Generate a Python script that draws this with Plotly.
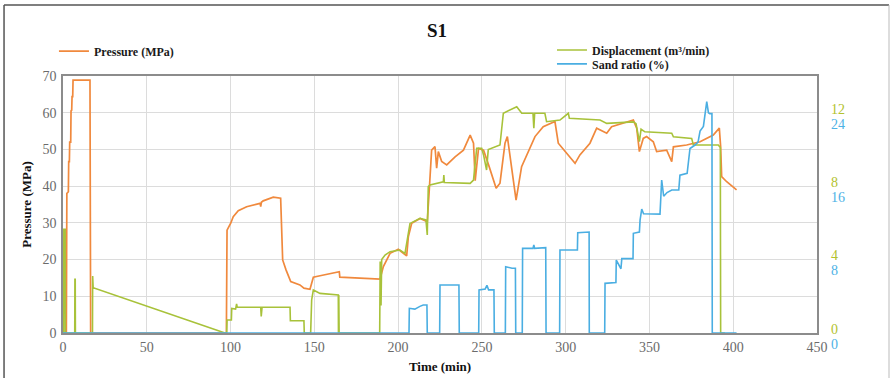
import plotly.graph_objects as go

# ---------------- data ----------------
time_pressure = [0, 2.0, 2.3, 3.2, 3.4, 3.8, 4.0, 4.6, 4.8, 5.2, 5.4, 5.8, 6.0, 6.4, 16.1, 16.5,
                 97.5, 97.9, 100.1, 101.6, 104.6, 109.6, 117.6, 118.0, 118.4, 119.5, 125.5, 129.9,
                 131.1, 133.1, 135.9, 141.4, 143.8, 147.4, 149.4, 153.4, 164.9, 165.2, 189.2,
                 191.2, 195.2, 200.1, 205.1, 206.1, 208.1, 213.1, 217.4, 218.6, 220.0, 222.0,
                 223.0, 224.0, 226.0, 229.0, 234.0, 239.0, 243.0, 245.0, 246.0, 248.0, 251.0,
                 254.0, 258.5, 260.8, 263.8, 265.2, 266.8, 270.4, 273.7, 278.7, 281.7, 286.6,
                 291.6, 293.6, 295.6, 300.6, 305.6, 308.5, 314.5, 318.5, 324.5, 327.4, 334.4,
                 340.4, 342.4, 344.0, 346.3, 348.3, 352.3, 354.3, 360.3, 363.3, 364.3, 372.2,
                 380.2, 388.1, 391.7, 392.5, 393.1, 396.1, 402.0]
pressure = [0, 0, 38.0, 38.5, 46.7, 46.7, 52.0, 52.0, 60.5, 60.7, 64.4, 64.4, 68.9, 68.9, 68.9, 0,
            0, 28.0, 29.9, 31.7, 33.3, 34.4, 35.3, 34.4, 35.6, 36.0, 37.0, 36.7,
            19.9, 17.2, 14.0, 13.1, 12.2, 11.9, 15.2, 15.6, 16.7, 15.2, 14.7,
            18.1, 21.7, 22.8, 21.0, 26.2, 29.9, 31.2, 30.3, 39.0, 49.8, 50.8,
            44.9, 49.4, 46.7, 45.8, 48.0, 49.8, 53.9, 51.7, 41.5, 50.3, 49.8,
            45.8, 39.4, 40.8, 51.7, 53.5, 48.0, 36.2, 45.3, 50.7, 53.5, 56.2,
            57.1, 57.6, 51.7, 49.0, 46.2, 48.5, 51.7, 55.8, 54.4, 56.2, 57.1,
            58.0, 55.8, 49.4, 53.0, 53.5, 52.1, 49.4, 49.8, 46.7, 50.7, 51.2,
            52.1, 53.9, 55.8, 50.7, 42.6, 41.2, 39.0]

time_disp = [0, 0.4, 0.5, 1.3, 1.4, 7.0, 7.1, 7.3, 7.4, 17.6, 17.7, 18.0, 96.7, 97.7, 97.9,
             100.5, 100.7, 103.0, 103.6, 104.0, 118.0, 118.3, 118.8, 135.5, 135.7, 143.8, 144.0,
             147.8, 148.4, 149.4, 153.4, 164.3, 164.4, 164.6, 164.8, 189.0, 189.3, 189.8, 190.2,
             192.2, 195.2, 201.1, 204.1, 206.1, 207.1, 213.1, 216.6, 217.4, 218.0, 219.0, 227.0,
             227.3, 227.6, 243.0, 245.0, 246.9, 249.9, 251.0, 252.8, 253.8, 260.8, 262.8, 268.7,
             270.8, 273.8, 280.5, 281.0, 281.5, 287.6, 288.6, 296.6, 301.6, 302.2, 320.5, 324.5,
             340.4, 342.0, 344.0, 345.0, 347.3, 363.3, 364.3, 375.2, 376.2, 391.1, 392.3, 392.5, 395.0]
displacement = [0, 0, 5.65, 5.65, 0, 0, 2.92, 2.92, 0, 0, 3.1, 2.47, 0, 0, 0.71,
                0.71, 1.34, 1.30, 1.58, 1.40, 1.40, 0.90, 1.40, 1.40, 0.67, 0.67, 0,
                0, 1.80, 2.34, 2.16, 2.07, 0, 2.07, 0, 0, 3.9, 1.5, 4.0,
                4.25, 4.43, 4.52, 4.34, 5.43, 5.97, 6.25, 6.16, 5.34, 7.97, 8.06, 8.24,
                8.6, 8.2, 8.15, 8.33, 10.06, 10.06, 9.7, 8.88, 9.99, 10.24, 11.97, 12.24,
                12.33, 11.97, 11.97, 11.15, 11.97, 11.97, 11.51, 11.6, 11.97, 11.7, 11.6, 11.42,
                11.5, 11.4, 10.42, 11.1, 10.96, 10.88, 10.69, 10.6, 10.24, 10.24, 10.1, 0, 0]

time_sand = [0, 206.5, 206.7, 210.0, 213.0, 215.0, 217.2, 217.4, 224.8, 225.0, 236.3, 236.5,
             248.1, 248.3, 252.0, 253.0, 254.0, 257.2, 257.4, 264.0, 264.2, 268.0, 270.0, 270.2,
             274.1, 274.3, 280.5, 281.0, 281.5, 288.1, 288.3, 296.4, 296.6, 302.0, 307.0, 307.2,
             314.0, 314.1, 323.3, 323.5, 330.0, 330.2, 333.0, 333.5, 340.2, 340.4, 344.0, 344.4,
             345.4, 346.5, 356.3, 357.3, 358.5, 360.5, 363.3, 367.5, 368.2, 372.5, 373.2, 374.2,
             377.2, 379.0, 380.2, 382.2, 384.2, 385.2, 386.0, 387.3, 387.5, 402.0]
sand_ratio = [0, 0, 2.69, 2.6, 2.9, 3.05, 3.05, 0, 0, 5.23, 5.23, 0,
              0, 4.68, 4.8, 5.2, 4.7, 4.7, 0, 0, 7.22, 7.05, 7.05, 0,
              0, 9.22, 9.22, 9.6, 9.22, 9.3, 0, 0, 9.04, 9.04, 9.04, 10.93,
              11.0, 0, 0, 5.41, 5.5, 7.95, 7.0, 8.1, 8.1, 10.86, 11.0, 12.3,
              13.5, 13.0, 12.95, 16.67, 14.9, 15.3, 15.58, 15.58, 17.2, 17.4, 18.85, 20.1,
              20.48, 20.8, 22.0, 22.5, 25.2, 24.0, 23.9, 23.9, 0, 0]

x_ticks = [0, 50, 100, 150, 200, 250, 300, 350, 400, 450]
p_ticks = [0, 10, 20, 30, 40, 50, 60, 70]
d_ticks = [0, 4, 8, 12]
s_ticks = [0, 8, 16, 24]

ORANGE = "#f0893d"
GREEN = "#a8c23a"
BLUE = "#4aaee2"
SERIF = "Liberation Serif"

fig = go.Figure()
fig.add_trace(go.Scatter(x=time_pressure, y=pressure, mode="lines", name="<b>Pressure (MPa)</b>",
                         line=dict(color=ORANGE, width=1.7), yaxis="y", legend="legend",
                         showlegend=True))
fig.add_trace(go.Scatter(x=time_disp, y=displacement, mode="lines",
                         name="<b>Displacement (m³/min)</b>",
                         line=dict(color=GREEN, width=1.6), yaxis="y2", legend="legend2",
                         showlegend=True))
fig.add_trace(go.Scatter(x=time_sand, y=sand_ratio, mode="lines", name="<b>Sand ratio (%)</b>",
                         line=dict(color=BLUE, width=1.6), yaxis="y3", legend="legend3",
                         showlegend=True))

legfont = dict(family=SERIF, size=12, color="#1a1a1a")

fig.update_layout(
    width=892, height=378, autosize=False,
    showlegend=True,
    margin=dict(l=63, r=75, t=76, b=45),
    paper_bgcolor="white", plot_bgcolor="white",
    title=dict(text="<b>S1</b>", font=dict(family=SERIF, size=19, color="#111"),
               x=0.496, xref="paper", xanchor="center", y=0.92, yref="container", yanchor="middle"),
    xaxis=dict(range=[0, 450], tickvals=x_ticks, showgrid=True, gridcolor="#dcdcdc", gridwidth=1.2,
               showline=True, linecolor="#8c8c8c", linewidth=1.5, mirror=True, zeroline=False,
               automargin=False,
               ticks="", tickfont=dict(family=SERIF, size=14, color="#6b6b6b"),
               title=dict(text="<b>Time (min)</b>", font=dict(family=SERIF, size=13, color="#111"),
                          standoff=8)),
    yaxis=dict(range=[0, 70], tickvals=p_ticks, showgrid=True, gridcolor="#dcdcdc", gridwidth=1.2,
               showline=True, linecolor="#8c8c8c", linewidth=1.5, mirror=True, zeroline=False,
               automargin=False,
               ticks="", tickfont=dict(family=SERIF, size=14, color="#6b6b6b"), ticklabelstandoff=2,
               title=dict(text="<b>Pressure (MPa)</b>", font=dict(family=SERIF, size=13, color="#111"),
                          standoff=8)),
    yaxis2=dict(range=[0, 14], tickvals=d_ticks, overlaying="y", side="right", anchor="x",
                showgrid=False, zeroline=False, showline=False, ticks="", automargin=False,
                tickfont=dict(family=SERIF, size=14, color="#b3c22e"),
                ticklabelstandoff=13, ticklabelshift=-4),
    yaxis3=dict(range=[0, 28], tickvals=s_ticks, overlaying="y", side="right", anchor="x",
                showgrid=False, zeroline=False, showline=False, ticks="", automargin=False,
                tickfont=dict(family=SERIF, size=14, color="#4eb2e6"),
                ticklabelstandoff=13, ticklabelshift=11),
    legend=dict(x=-0.012, y=1.097, xanchor="left", yanchor="middle", font=legfont,
                bgcolor="rgba(0,0,0,0)"),
    legend2=dict(x=0.6485, y=1.101, xanchor="left", yanchor="middle", font=legfont,
                 bgcolor="rgba(0,0,0,0)"),
    legend3=dict(x=0.6485, y=1.047, xanchor="left", yanchor="middle", font=legfont,
                 bgcolor="rgba(0,0,0,0)"),
    shapes=[
        dict(type="line", xref="paper", yref="paper", x0=-0.0782, x1=-0.0782, y0=-0.25, y1=1.276,
             line=dict(color="#555", width=1.5)),
        dict(type="line", xref="paper", yref="paper", x0=-0.0782, x1=1.0955, y0=1.276, y1=1.276,
             line=dict(color="#555", width=1.5)),
        dict(type="line", xref="paper", yref="paper", x0=1.0955, x1=1.0955, y0=-0.25, y1=1.276,
             line=dict(color="#bbb", width=1)),
    ],
)

fig.write_html("out.html", config={"displayModeBar": False},
               post_script="document.body.style.margin='0';")
